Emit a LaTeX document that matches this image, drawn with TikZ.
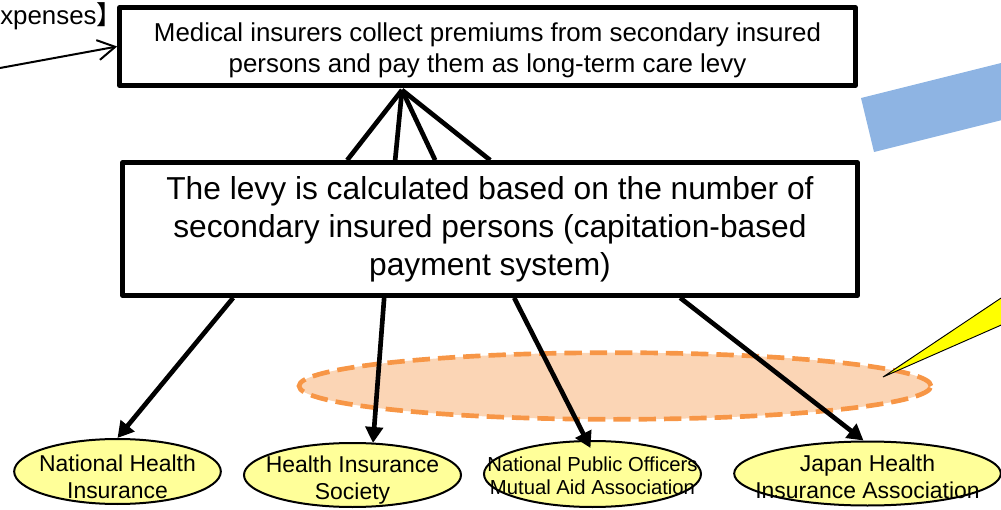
\documentclass[tikz,border=0pt]{standalone}
\usepackage{fontspec}
\setmainfont{Liberation Sans}
\newfontfamily\cjkfont{Noto Sans CJK JP}
\usetikzlibrary{arrows.meta,shapes.geometric,calc}
\definecolor{orgyellow}{HTML}{FFFF99}
\definecolor{calloutyellow}{HTML}{FFFF00}
\definecolor{peach}{HTML}{FBD5B5}
\definecolor{dashorange}{HTML}{F79646}
\definecolor{bandblue}{HTML}{8EB4E3}

\begin{document}
\begin{tikzpicture}[x=0.75pt,y=-0.75pt,
    box/.style ={draw,line width=3.5pt,line join=round,align=center,inner sep=0pt},
    org/.style ={draw,ellipse,line width=1.5pt,fill=orgyellow,inner sep=0pt},
    orgtext/.style ={align=center,inner sep=0pt,font=\fontsize{17.2}{20.5}\selectfont},
    link/.style ={line width=3.5pt},
    flow/.style ={line width=3.5pt,-{Triangle[length=12pt,width=13pt]}}]
    \useasboundingbox (0,0) rectangle (1001,510);
    % background shapes
    \fill[bandblue] (861,98) -- (1061,48) -- (1074,102) -- (874,152) -- cycle;
    \filldraw[fill=peach,draw=dashorange,line width=3.5pt,dash pattern=on 13pt off 6pt]
        (615,386) ellipse [x radius=237pt,y radius=25pt];
    \filldraw[fill=calloutyellow,draw=black,line width=0.7pt,line join=miter] (883,377) -- (1040,272) -- (1040,308) -- cycle;
    % boxes
    \node[box,minimum width=552pt,minimum height=58.5pt] (insurers) at (487.5,46.5) {};
    \node[align=center,inner sep=0pt,font=\fontsize{19.4}{23.3}\selectfont] at ($(insurers)+(0,4)$)
        {Medical insurers collect premiums from secondary insured\\persons and pay them as long-term care levy};
    \node[box,minimum width=551.25pt,minimum height=99.75pt,font=\fontsize{23.8}{28.5}\selectfont]
        (levy) at (490,229) {The levy is calculated based on the number of\\secondary insured persons (capitation-based\\payment system)};
    \node[anchor=base west,inner sep=0pt,font=\fontsize{19.4}{23.3}\selectfont] (expenses) at (0,25) {xpenses{\cjkfont 】}};
    \coordinate (feed) at (0,68);
    \draw[line width=1.5pt,-{Straight Barb[length=13pt,width=15pt]}] (feed) -- (insurers.west);
    % insurers
    \node[org,minimum width=155pt,minimum height=48.75pt] (nhi) at (117.5,471.5) {};
    \node[org,minimum width=162.75pt,minimum height=48pt] (his) at (352.5,475) {};
    \node[org,minimum width=162.75pt,minimum height=49.5pt] (mpo) at (592.5,474) {};
    \node[org,minimum width=200pt,minimum height=48pt] (jhia) at (867.5,473.5) {};
    \node[orgtext] at ($(nhi)+(0,5)$) {National Health\\Insurance};
    \node[orgtext] at ($(his)+(0,5)$) {Health Insurance\\Society};
    \node[orgtext,font=\fontsize{15.2}{17.5}\selectfont] at ($(mpo)+(0,2)$) {National Public Officers\\Mutual Aid Association};
    \node[orgtext] at ($(jhia)+(0,3.5)$) {Japan Health\\Insurance Association};
    % lines up to the insurers box
    \coordinate (hub) at (402,90);
    \foreach \dx in {227,275,315,370}
        \draw[link] (hub) -- ($(levy.north west)+(\dx,0)$);
    % arrows down to the insurers
    \draw[flow] ($(levy.south west)+(113,0)$) -- (nhi.north);
    \draw[flow] ($(levy.south west)+(264,0)$) -- ($(his.north)+(20.5,1)$);
    \draw[flow] ($(levy.south west)+(394,0)$) -- ($(mpo.north)+(-2,8)$);
    \draw[flow] ($(levy.south west)+(560,0)$) -- ($(jhia.north)+(-4,0)$);
\end{tikzpicture}
\end{document}
